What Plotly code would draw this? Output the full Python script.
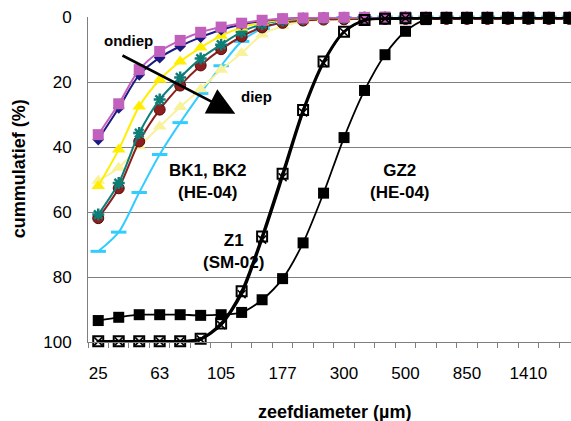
import plotly.graph_objects as go

# Sieve sizes (µm) used as category positions; every third one is labelled
sieve_sizes = ["25", "32", "45", "63", "75", "90", "105", "125", "150", "177", "210", "250",
               "300", "355", "425", "500", "600", "710", "850", "1000", "1180", "1410", "1700", "2000"]
labelled = ["25", "63", "105", "177", "300", "500", "850", "1410"]

# Cumulative percentages per sample
bk_navy = [37.7, 28.0, 17.8, 12.5, 9.0, 6.2, 3.9, 2.3, 1.2, 0.6, 0.3, 0.2, 0.1, 0.1,
           0.0, 0.0, 0.0, 0.0, 0.0, 0.0, 0.0, 0.0, 0.0, 0.0]
bk_magenta = [36.2, 26.7, 16.2, 10.6, 7.2, 4.7, 3.1, 1.9, 1.0, 0.5, 0.3, 0.2, 0.1, 0.1,
              0.0, 0.0, 0.0, 0.0, 0.0, 0.0, 0.0, 0.0, 0.0, 0.0]
bk_yellow = [52.0, 40.8, 27.5, 19.3, 13.7, 9.4, 5.8, 3.2, 1.7, 0.9, 0.5, 0.3, 0.2, 0.1,
             0.1, 0.0, 0.0, 0.0, 0.0, 0.0, 0.0, 0.0, 0.0, 0.0]
bk_teal = [60.8, 51.1, 35.7, 25.4, 18.6, 12.8, 8.5, 4.6, 2.2, 1.1, 0.6, 0.4, 0.3, 0.2,
           0.2, 0.2, 0.2, 0.2, 0.2, 0.2, 0.2, 0.2, 0.2, 0.2]
bk_darkred = [61.9, 52.7, 38.3, 28.5, 21.1, 14.9, 9.9, 6.0, 3.2, 1.8, 1.1, 0.8, 0.7, 0.6,
              0.6, 0.6, 0.6, 0.6, 0.6, 0.6, 0.6, 0.6, 0.6, 0.6]
bk_paleyellow = [50.4, 46.4, 39.8, 33.7, 27.7, 22.2, 16.2, 11.1, 5.4, 2.8, 1.3, 0.8, 0.6, 0.4,
                 0.3, 0.2, 0.2, 0.2, 0.2, 0.2, 0.2, 0.2, 0.2, 0.2]
bk_lightblue = [72.1, 66.2, 54.0, 42.3, 32.5, 23.5, 15.0, 7.5, 3.6, 1.6, 0.8, 0.4, 0.2, 0.1,
                0.0, 0.0, 0.0, 0.0, 0.0, 0.0, 0.0, 0.0, 0.0, 0.0]
z1_a = [99.8, 99.8, 99.8, 99.8, 99.8, 99.0, 94.3, 84.4, 67.5, 48.2, 28.6, 13.7, 4.5, 0.9,
        0.5, 0.4, 0.3, 0.3, 0.3, 0.3, 0.3, 0.3, 0.3, 0.3]
z1_b = [99.8, 99.8, 99.8, 99.8, 99.8, 99.2, 94.8, 85.3, 68.5, 49.3, 29.4, 14.2, 4.7, 1.0,
        0.5, 0.4, 0.3, 0.3, 0.3, 0.3, 0.3, 0.3, 0.3, 0.3]
gz2 = [93.4, 92.4, 91.6, 91.6, 91.6, 91.8, 91.6, 90.9, 87.0, 80.5, 69.5, 54.2, 37.1, 22.6,
       11.6, 4.4, 0.8, 0.4, 0.3, 0.3, 0.3, 0.3, 0.3, 0.3]

FONT = "Arial, Liberation Sans, sans-serif"

fig = go.Figure()


def add_series(values, color, symbol, size, lw=2.0, mline=None, mcolor=None):
    fig.add_trace(go.Scatter(
        x=sieve_sizes, y=values, mode="lines+markers",
        line=dict(color=color, width=lw, shape="spline", smoothing=0.8),
        marker=dict(symbol=symbol, size=size, color=mcolor or color,
                    line=mline or dict(width=0)),
        cliponaxis=False, showlegend=False, hoverinfo="skip",
    ))


add_series(bk_lightblue, "#33CCFF", "line-ew-open", 11, mline=dict(width=3, color="#33CCFF"))
add_series(bk_paleyellow, "#F8F29A", "triangle-up", 12)
add_series(bk_darkred, "#8E1E1E", "circle", 11, mline=dict(width=1, color="#5A0A0A"))
add_series(bk_teal, "#0E7F78", "asterisk-open", 10, mline=dict(width=2.5, color="#0E7F78"))
add_series(bk_yellow, "#FFEE00", "triangle-up", 12)
add_series(bk_navy, "#1A1A80", "diamond", 9)
add_series(bk_magenta, "#C260BE", "square", 11)
add_series(z1_b, "#000000", "x-thin-open", 8, lw=2.2, mline=dict(width=1.6, color="#000000"))
add_series(z1_a, "#000000", "square-open-dot", 10, lw=2.6, mline=dict(width=2, color="#000000"))
add_series(gz2, "#000000", "square", 11, lw=1.8)

ann_font = dict(family=FONT, size=17, color="#000000")
annotations = [
    # depth arrow
    dict(x=6.69, y=29.8, ax=1.11, ay=11.6, xref="x", yref="y", axref="x", ayref="y",
         text="", showarrow=True, arrowhead=2, arrowsize=2.1, arrowwidth=2.6, arrowcolor="#000000"),
    dict(x=1.5, y=7.3, text="<b>ondiep</b>", showarrow=False, font=dict(family=FONT, size=15)),
    dict(x=7.71, y=24.5, text="<b>diep</b>", showarrow=False, font=dict(family=FONT, size=15)),
    dict(x=5.35, y=50.7, text="<b>BK1, BK2<br>(HE-04)</b>", showarrow=False, font=ann_font),
    dict(x=6.61, y=72.2, text="<b>Z1<br>(SM-02)</b>", showarrow=False, font=ann_font),
    dict(x=14.72, y=50.7, text="<b>GZ2<br>(HE-04)</b>", showarrow=False, font=ann_font),
    # axis titles
    dict(x=0.511, y=-0.215, xref="paper", yref="paper", text="<b>zeefdiameter (µm)</b>",
         showarrow=False, font=dict(family=FONT, size=18), xanchor="center", yanchor="middle"),
    dict(x=-0.141, y=0.534, xref="paper", yref="paper", text="<b>cummulatief (%)</b>",
         showarrow=False, textangle=-90, font=dict(family=FONT, size=18),
         xanchor="center", yanchor="middle"),
]
for a in annotations:
    a.setdefault("font", ann_font)
    a["font"].setdefault("color", "#000000")
    fig.add_annotation(**a)

fig.update_layout(
    width=571, height=421,
    margin=dict(l=88, r=0, t=17, b=79),
    paper_bgcolor="white", plot_bgcolor="white",
    font=dict(family=FONT, size=17, color="#000000"),
    xaxis=dict(
        type="category", categoryorder="array", categoryarray=sieve_sizes,
        range=[-0.5, 23.08],
        tickmode="array", tickvals=sieve_sizes,
        ticktext=[s if s in labelled else "" for s in sieve_sizes],
        tickangle=0,
        tickson="boundaries", ticks="outside", ticklen=5, tickwidth=1, tickcolor="#7F7F7F",
        showline=True, linecolor="#7F7F7F", linewidth=1,
        showgrid=False, zeroline=False, ticklabelstandoff=16,
        tickfont=dict(family=FONT, size=17, color="#000000"),
    ),
    yaxis=dict(
        range=[100, 0], tickvals=[0, 20, 40, 60, 80, 100],
        showgrid=True, gridcolor="#7F7F7F", gridwidth=1,
        showline=True, linecolor="#7F7F7F", linewidth=1,
        zeroline=False, ticks="", ticklabelstandoff=12,
        tickfont=dict(family=FONT, size=17, color="#000000"),
    ),
)

fig.write_html("out.html")
